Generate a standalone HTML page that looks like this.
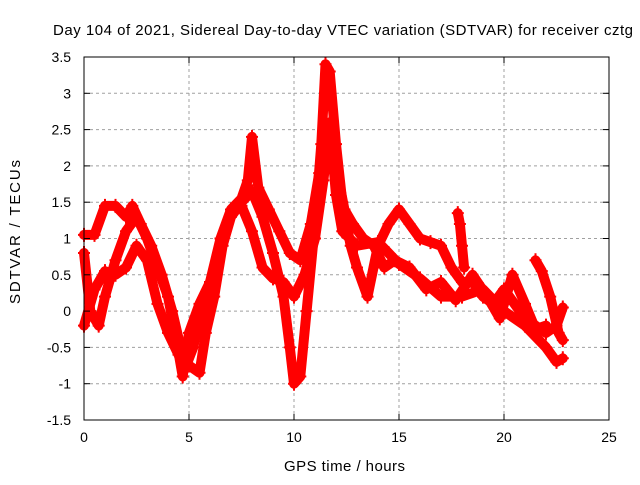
<!DOCTYPE html>
<html><head><meta charset="utf-8"><style>
body{margin:0;background:#fff;}
svg text{font-family:"Liberation Sans",sans-serif;font-size:14px;fill:#000;}
</style></head><body>
<svg id="chart" width="640" height="480" xmlns="http://www.w3.org/2000/svg">
<text x="53" y="35" textLength="580" lengthAdjust="spacing" style="font-size:15px">Day 104 of 2021, Sidereal Day-to-day VTEC variation (SDTVAR) for receiver cztg</text>
<text transform="translate(20,304) rotate(-90)" textLength="144" lengthAdjust="spacing" style="font-size:15px">SDTVAR / TECUs</text>
<text x="284" y="471" textLength="121" lengthAdjust="spacing" style="font-size:15px">GPS time / hours</text>
<g id="grid"></g><g id="series"></g><g id="axes"></g>
</svg>
<script>
const xTicks=[0,5,10,15,20,25];
const yTicks=[-1.5,-1,-0.5,0,0.5,1,1.5,2,2.5,3,3.5];
const trackA=[[0,1.05],[0.5,1.05],[1,1.45],[1.5,1.45],[2,1.3],[2.3,1.45],[2.7,1.2],[3.2,0.9],[3.7,0.5],[4.2,0.0],[4.6,-0.5],[5,-0.75],[5.5,-0.85],[5.8,-0.3],[6.2,0.2],[6.6,0.9],[7,1.3],[7.5,1.5],[8,1.65],[8.5,1.3],[9,0.8],[9.5,0.2],[9.8,-0.5],[10,-1.0],[10.3,-0.9],[10.6,0.0],[11,1.2],[11.3,2.3],[11.5,3.4],[11.7,3.3],[12,2.3],[12.3,1.5],[12.7,0.9],[13,0.6],[13.5,0.2],[14,0.9],[14.5,1.2],[15,1.4],[15.5,1.2],[16,1.0],[16.5,0.95],[17,0.9],[17.5,0.6],[18,0.4],[18.5,0.4],[19,0.2],[19.5,0.1],[20,0.3],[20.5,0.1],[21,-0.1],[21.5,-0.2],[22,-0.3],[22.5,-0.2],[22.8,0.05]];
const trackB=[[0,-0.2],[0.5,0.3],[1,0.55],[1.5,0.5],[2,0.6],[2.5,0.9],[3,0.7],[3.5,0.1],[4,-0.3],[4.5,-0.6],[4.8,-0.8],[5.2,-0.5],[5.5,-0.1],[6,0.2],[6.5,0.9],[7,1.35],[7.5,1.45],[8,1.1],[8.5,0.6],[9,0.45],[9.5,0.4],[10,0.2],[10.5,0.5],[11,1.0],[11.4,1.8],[11.7,2.6],[12,1.6],[12.3,1.1],[13,0.9],[14,0.95],[14.5,0.8],[15,0.65],[16,0.45],[17,0.2],[18,0.2],[19,0.3],[20,0.0],[21,-0.2],[22,-0.5],[22.5,-0.7],[22.8,-0.65]];
const trackC=[[0,0.8],[0.3,0.0],[0.7,-0.2],[1,0.2],[1.5,0.7],[2,1.1],[2.5,1.3],[3,1.0],[3.5,0.6],[4,0.2],[4.4,-0.4],[4.7,-0.9],[5,-0.3],[5.5,0.1],[6,0.4],[6.5,1.0],[7,1.4],[7.5,1.55],[7.8,1.8],[8,2.4],[8.3,1.7],[8.8,1.4],[9.3,1.1],[9.8,0.8],[10.3,0.7],[10.8,1.2],[11.2,1.9],[11.6,2.1],[12,2.0],[12.4,1.4],[12.8,1.2],[13.3,1.0],[13.8,0.9],[14.3,0.6],[14.8,0.7],[15.5,0.6],[16.3,0.3],[17,0.4],[17.7,0.15],[18.5,0.5],[19.2,0.2],[19.8,-0.1],[20.4,0.5],[21,0.1],[21.5,-0.25],[22,-0.2]];
const trackD=[[17.8,1.35],[17.9,1.2],[18,0.9],[18.1,0.6]];
const trackE=[[21.5,0.7],[21.8,0.55],[22.2,0.2],[22.6,-0.3],[22.8,-0.4]];
const tracks=[trackA,trackB,trackC,trackD,trackE];
const X0=84,X1=609,Y0=420,Y1=57;
const sx=v=>X0+(v-0)/25*(X1-X0);
const sy=v=>Y0-(v+1.5)/5*(Y0-Y1);
const NS='http://www.w3.org/2000/svg';
const grid=document.getElementById('grid'),axes=document.getElementById('axes'),ser=document.getElementById('series');
function mk(tag,at,parent){const e=document.createElementNS(NS,tag);for(const k in at)e.setAttribute(k,at[k]);parent.appendChild(e);return e;}
xTicks.forEach(t=>{const x=sx(t);
 if(t>0&&t<25){const g=mk('line',{x1:x,x2:x,y1:Y1,y2:Y0,stroke:'#a0a0a0','stroke-dasharray':'3,3'},grid);
 
 }
 mk('line',{x1:x,x2:x,y1:Y0,y2:Y0-6,stroke:'#000'},axes);mk('line',{x1:x,x2:x,y1:Y1,y2:Y1+6,stroke:'#000'},axes);
 const l=mk('text',{x:x,y:Y0+22,'text-anchor':'middle'},axes);l.textContent=t;
 
 });
yTicks.forEach(t=>{const y=sy(t);
 if(t>-1.5&&t<3.5){const g=mk('line',{x1:X0,x2:X1,y1:y,y2:y,stroke:'#a0a0a0','stroke-dasharray':'3,3'},grid);
 
 }
 mk('line',{x1:X0,x2:X0+6,y1:y,y2:y,stroke:'#000'},axes);mk('line',{x1:X1,x2:X1-6,y1:y,y2:y,stroke:'#000'},axes);
 const l=mk('text',{x:X0-13,y:y+5,'text-anchor':'end'},axes);l.textContent=t;
 
 });
const fr=mk('rect',{x:X0,y:Y1,width:X1-X0,height:Y0-Y1,fill:'none',stroke:'#000'},axes);


tracks.forEach(tr=>{
 const pl=mk('polyline',{points:tr.map(p=>sx(p[0])+','+sy(p[1])).join(' '),fill:'none',stroke:'#ff0000','stroke-width':10,'stroke-linejoin':'round','stroke-linecap':'round'},ser);
 
 
 tr.forEach(p=>{const x=sx(p[0]),y=sy(p[1]);
  const m=mk('path',{d:`M${x-6},${y}H${x+6}M${x},${y-7}V${y+7}`,stroke:'#ff0000','stroke-width':2},ser);
  
  });
});
</script>
</body></html>
